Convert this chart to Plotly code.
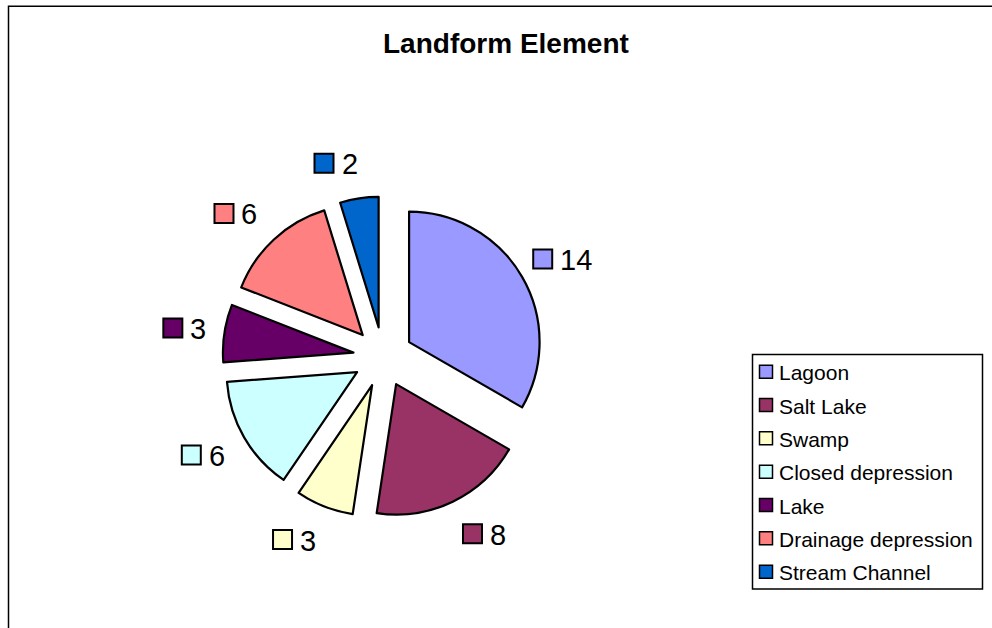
import math
import plotly.graph_objects as go

# data
landforms = ["Lagoon", "Salt Lake", "Swamp", "Closed depression", "Lake",
             "Drainage depression", "Stream Channel"]
counts = [14, 8, 3, 6, 3, 6, 2]
slice_colors = ["#9999FF", "#993366", "#FFFFCC", "#CCFFFF", "#660066", "#FF8080", "#0066CC"]

W, H = 992, 628
FONT = "Arial, Liberation Sans, sans-serif"

# pie box in pixels (center + half size incl. pull)
PULL = 0.23
cx, cy = 383.1, 357.1
half = 160.5


def px(x):
    return x / W


def py(y):
    return 1 - y / H


fig = go.Figure(
    go.Pie(
        labels=landforms,
        values=counts,
        sort=False,
        direction="clockwise",
        rotation=0,
        pull=[PULL] * len(counts),
        marker=dict(colors=slice_colors, line=dict(color="black", width=2.2)),
        textinfo="none",
        showlegend=False,
        domain=dict(x=[px(cx - half), px(cx + half)], y=[py(cy + half), py(cy - half)]),
    )
)

shapes = []
annotations = []

# outer chart frame (only top and left edges visible)
shapes.append(dict(type="rect", xref="paper", yref="paper",
                   x0=px(8.5), x1=px(1010), y0=py(6.2), y1=py(650),
                   line=dict(color="black", width=1.5)))

# data labels: colour key + value, placed outside each slice's mid angle
total = sum(counts)
start = 0.0
label_r = 196
sq = 19
digit_w = 0.556 * 29
for val, col in zip(counts, slice_colors):
    ang = (start + val / 2) / total * 2 * math.pi
    start += val
    ux, uy = math.sin(ang), -math.cos(ang)
    shift = (2 + 16 * abs(uy)) * (1 if ux >= 0 else -1)
    bx = cx + label_r * ux + shift
    by = cy + label_r * uy
    w = sq + 2 + 8 + len(str(val)) * digit_w
    left = bx - w / 2
    shapes.append(dict(type="rect", xref="paper", yref="paper",
                       x0=px(left + 1), x1=px(left + 1 + sq),
                       y0=py(by + sq / 2), y1=py(by - sq / 2),
                       fillcolor=col, line=dict(color="black", width=2)))
    annotations.append(dict(x=px(left + sq + 7), y=py(by + 1), xref="paper", yref="paper",
                            text=str(val), showarrow=False, xanchor="left", yanchor="middle",
                            font=dict(family=FONT, size=29, color="black")))

# legend box drawn by hand to match the row spacing
shapes.append(dict(type="rect", xref="paper", yref="paper",
                   x0=px(752.5), x1=px(982.5), y0=py(589), y1=py(354.5),
                   line=dict(color="black", width=1.5), fillcolor="white"))
row0, row_gap = 371.7, 33.33
for i, (name, col) in enumerate(zip(landforms, slice_colors)):
    ry = row0 + i * row_gap
    shapes.append(dict(type="rect", xref="paper", yref="paper",
                       x0=px(759.5), x1=px(772.5), y0=py(ry + 6.5), y1=py(ry - 6.5),
                       fillcolor=col, line=dict(color="black", width=1.5)))
    annotations.append(dict(x=px(776.5), y=py(ry + 1), xref="paper", yref="paper",
                            text=name, showarrow=False, xanchor="left", yanchor="middle",
                            font=dict(family=FONT, size=21, color="black")))

# title
annotations.append(dict(x=px(506), y=py(43), xref="paper", yref="paper",
                        text="<b>Landform Element</b>", showarrow=False,
                        xanchor="center", yanchor="middle",
                        font=dict(family=FONT, size=28, color="black")))

fig.update_layout(
    width=W,
    height=H,
    autosize=False,
    margin=dict(l=0, r=0, t=0, b=0),
    paper_bgcolor="white",
    plot_bgcolor="white",
    shapes=shapes,
    annotations=annotations,
)

# drop the page's default body margin so the figure sits at the window corner
fig.write_html("out.html", config={"displayModeBar": False},
               post_script="document.body.style.margin='0px';")
